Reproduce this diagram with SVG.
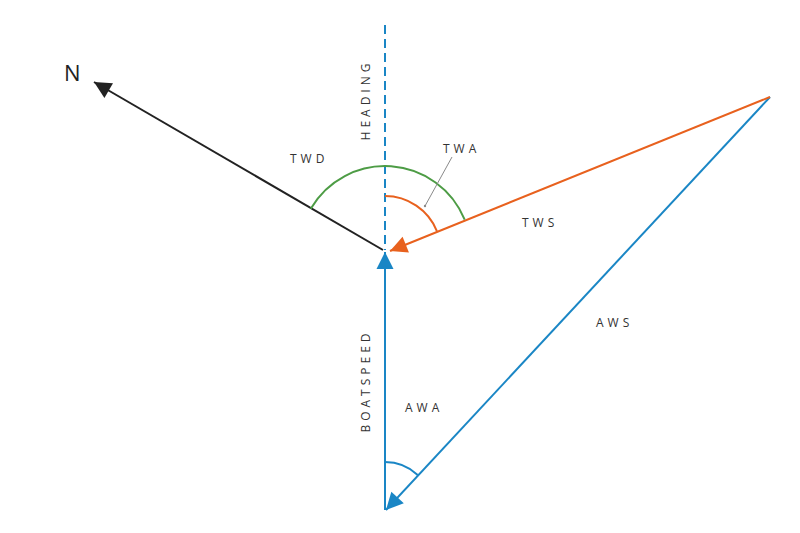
<svg xmlns="http://www.w3.org/2000/svg" width="800" height="533" viewBox="0 0 800 533">
<style>
.lbl{font-family:"Open Sans","Liberation Sans",sans-serif;font-size:12px;fill:#333;letter-spacing:4px}
.blue{stroke:#1a86c5;fill:none;stroke-width:2}
.orange{stroke:#e8611e;fill:none;stroke-width:2}
.green{stroke:#4d9c45;fill:none;stroke-width:2}
.black{stroke:#222;fill:none;stroke-width:2}
</style>
<defs>
<marker id="ah-blue" viewBox="-18 -9 18 18" markerWidth="18" markerHeight="18" refX="0" refY="0" orient="auto" markerUnits="userSpaceOnUse"><path d="M0,0 L-17,-8.5 L-17,8.5 z" fill="#1a86c5"/></marker>
<marker id="ah-orange" viewBox="-18 -9 18 18" markerWidth="18" markerHeight="18" refX="0" refY="0" orient="auto" markerUnits="userSpaceOnUse"><path d="M0,0 L-17,-8.5 L-17,8.5 z" fill="#e8611e"/></marker>
<marker id="ah-black" viewBox="-18 -9 18 18" markerWidth="18" markerHeight="18" refX="0" refY="0" orient="auto" markerUnits="userSpaceOnUse"><path d="M0,0 L-17,-8.5 L-17,8.5 z" fill="#222"/></marker>
</defs>
<rect width="800" height="533" fill="#fff"/>
<g id="connectors">
<line id="heading-line" x1="385" y1="25" x2="385" y2="250" class="blue" stroke-dasharray="9 5"/>
<line id="boatspeed-line" x1="385" y1="510" x2="385" y2="252" class="blue" marker-end="url(#ah-blue)"/>
<line id="aws-line" x1="770" y1="97" x2="386" y2="510" class="blue" marker-end="url(#ah-blue)"/>
<line id="tws-line" x1="770" y1="97" x2="390" y2="251" class="orange" marker-end="url(#ah-orange)"/>
<line id="north-line" x1="383" y1="250" x2="94" y2="82" class="black" marker-end="url(#ah-black)"/>
<path id="twd-arc" d="M310.7,208.8 A86,86 0 0 1 464.7,219.7" class="green"/>
<path id="twa-arc" d="M385,196 A56,56 0 0 1 436.9,231" class="orange"/>
<path id="awa-arc" d="M385,462 A48,48 0 0 1 417.7,474.9" class="blue"/>
<line id="twa-leader" x1="452" y1="157" x2="425" y2="206" stroke="#8a8a8a" stroke-width="1"/>
<circle cx="425" cy="206" r="1.2" fill="#8a8a8a"/>
</g>
<g id="label-n"><text x="64" y="81" font-family="'Open Sans','Liberation Sans',sans-serif" font-size="22" fill="#222">N</text></g>
<g id="label-twd"><text class="lbl" x="290" y="163">TWD</text></g>
<g id="label-twa"><text class="lbl" x="443" y="153">TWA</text></g>
<g id="label-tws"><text class="lbl" x="522" y="227">TWS</text></g>
<g id="label-aws"><text class="lbl" x="596" y="327">AWS</text></g>
<g id="label-awa"><text class="lbl" x="405" y="412">AWA</text></g>
<g id="label-heading"><text class="lbl" transform="translate(370,100) rotate(-90)" text-anchor="middle">HEADING</text></g>
<g id="label-boatspeed"><text class="lbl" transform="translate(370,381) rotate(-90)" text-anchor="middle">BOATSPEED</text></g>
</svg>
